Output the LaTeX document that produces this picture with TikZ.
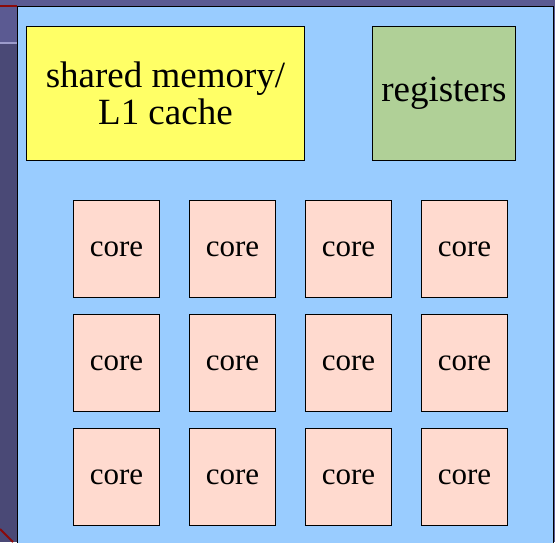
\documentclass[tikz,border=0pt]{standalone}
\usepackage{fontspec}
\newfontfamily\labelfont{Liberation Serif}
\newfontfamily\altserif{DejaVu Serif}
\definecolor{slidebg}{HTML}{5B5A92}
\definecolor{slidedark}{HTML}{4A4976}
\definecolor{slideline}{HTML}{9C9BCB}
\definecolor{smblue}{HTML}{99CCFF}
\definecolor{memyellow}{HTML}{FFFF66}
\definecolor{reggreen}{HTML}{B0D097}
\definecolor{corepink}{HTML}{FFDACF}
\definecolor{darkred}{HTML}{8B0A0A}
\tikzset{
  unit/.style={draw=black, line width=0.9pt, anchor=north west, inner sep=0pt, align=center},
  corebox/.style={unit, fill=corepink, minimum width=86pt, minimum height=97pt},
}
\newcommand{\memlabel}[1]{{\labelfont\fontsize{37}{41}\selectfont #1}}
\newcommand{\corelabel}{{\labelfont\fontsize{31}{36}\selectfont core}}
\begin{document}
\begin{tikzpicture}[x=1pt,y=-1pt]
  \useasboundingbox (0,0) rectangle (555,542);
  % slide backdrop behind the multiprocessor
  \fill[slidebg] (0,0) rectangle (555,542);
  \fill[slidedark] (0,44) rectangle (17,542);
  \draw[slideline, line width=2pt] (0,43) -- (17,43);
  \draw[darkred, line width=2pt] (0,6) -- (17,6);
  \draw[darkred, line width=2pt] (0,529) -- (13,542);
  % streaming multiprocessor body
  \draw[fill=smblue, line width=1pt] (17,6) rectangle (553,560);
  % on-chip memories
  \node[unit, fill=memyellow, minimum width=278pt, minimum height=134pt] (smem) at (26,26)
    {\memlabel{shared memory/}\\[2pt]\memlabel{L1 cache}};
  \node[unit, fill=reggreen, minimum width=143pt, minimum height=134pt] (regs) at (372,26)
    {\memlabel{registers}};
  % 3 x 4 grid of cores
  \foreach \r/\y in {1/200, 2/314, 3/428}{
    \foreach \c/\x in {1/73, 2/189, 3/305, 4/421}{
      \node[corebox] (core\r\c) at (\x,\y) {\corelabel};
    }
  }
\end{tikzpicture}
\end{document}
